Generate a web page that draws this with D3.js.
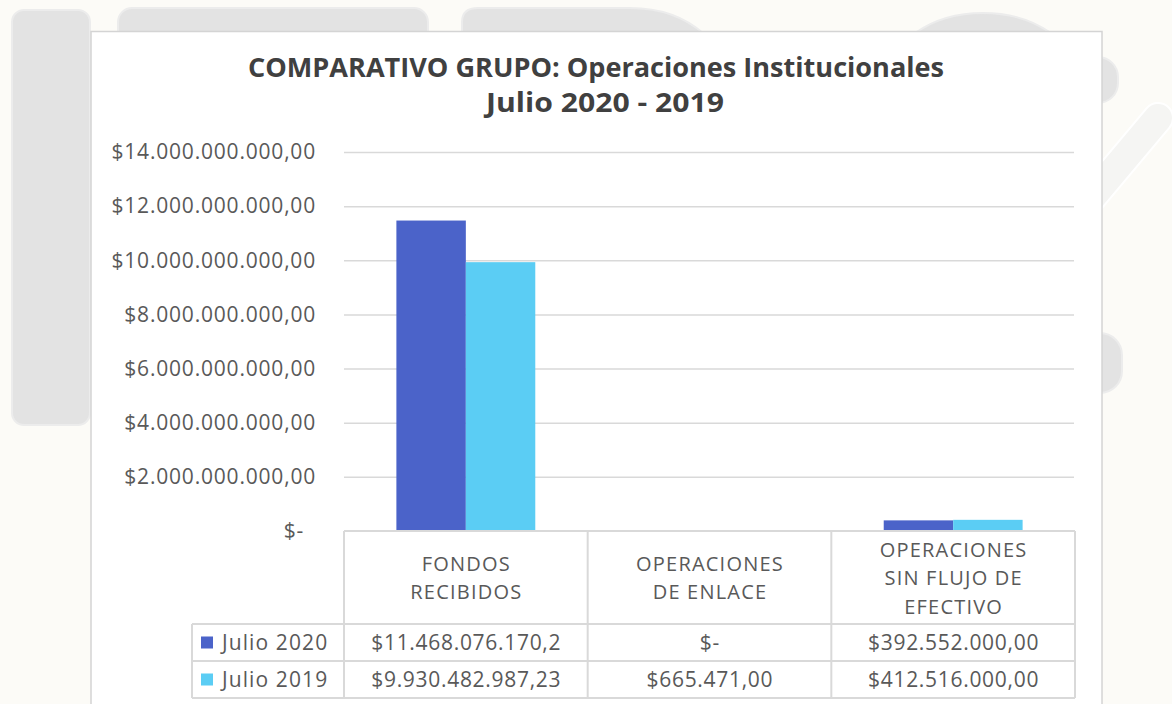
<!DOCTYPE html>
<html>
<head>
<meta charset="utf-8">
<script src="https://cdn.jsdelivr.net/npm/d3@7"></script>
<style>
  html, body { margin: 0; padding: 0; background: #fcfbf7; }
  svg { display: block; }
  text { font-family: "Open Sans", "Noto Sans", sans-serif; }
</style>
</head>
<body>
<svg id="chart" width="1172" height="704"></svg>
<script>
// ---------------- data ----------------
const titleLines = ["COMPARATIVO GRUPO: Operaciones Institucionales", "Julio 2020 - 2019"];
const categories = ["FONDOS RECIBIDOS", "OPERACIONES DE ENLACE", "OPERACIONES SIN FLUJO DE EFECTIVO"];
const categoryLines = [["FONDOS", "RECIBIDOS"], ["OPERACIONES", "DE ENLACE"], ["OPERACIONES", "SIN FLUJO DE", "EFECTIVO"]];
const seriesNames = ["Julio 2020", "Julio 2019"];
const julio2020 = [11468076170.2, 0, 392552000];
const julio2019 = [9930482987.23, 665471, 412516000];
const julio2020Labels = ["$11.468.076.170,2", "$-", "$392.552.000,00"];
const julio2019Labels = ["$9.930.482.987,23", "$665.471,00", "$412.516.000,00"];
const yTicks = [0, 2e9, 4e9, 6e9, 8e9, 10e9, 12e9, 14e9];
const yTickLabels = ["$-", "$2.000.000.000,00", "$4.000.000.000,00", "$6.000.000.000,00",
  "$8.000.000.000,00", "$10.000.000.000,00", "$12.000.000.000,00", "$14.000.000.000,00"];
const seriesColors = ["#4b63c9", "#5bcdf4"];

// ---------------- drawing ----------------
const svg = d3.select("#chart");
const textColor = "#595959";
const lineColor = "#d9d9d9";

// background watermark shapes
const bg = svg.append("g");
bg.append("rect").attr("width", 1172).attr("height", 704).attr("fill", "#fcfbf7");
const shapeFill = "#e3e3e3", shapeStroke = "#ececec";
bg.append("rect").attr("x", 12).attr("y", 10).attr("width", 78).attr("height", 415).attr("rx", 12)
  .attr("fill", shapeFill).attr("stroke", shapeStroke).attr("stroke-width", 2);
bg.append("rect").attr("x", 118).attr("y", 8).attr("width", 310).attr("height", 120).attr("rx", 14)
  .attr("fill", shapeFill).attr("stroke", shapeStroke).attr("stroke-width", 2);
bg.append("path").attr("d", "M462,60 L462,22 Q462,8 478,8 L630,8 Q675,8 704,34 L704,60 Z")
  .attr("fill", shapeFill).attr("stroke", shapeStroke).attr("stroke-width", 2);
bg.append("ellipse").attr("cx", 983).attr("cy", 80).attr("rx", 95).attr("ry", 67)
  .attr("fill", shapeFill).attr("stroke", shapeStroke).attr("stroke-width", 2);
bg.append("rect").attr("x", 1070).attr("y", 57).attr("width", 48).attr("height", 46).attr("rx", 20)
  .attr("fill", shapeFill).attr("stroke", shapeStroke).attr("stroke-width", 2);
bg.append("rect").attr("x", 1070).attr("y", 333).attr("width", 52).attr("height", 60).attr("rx", 22)
  .attr("fill", shapeFill).attr("stroke", shapeStroke).attr("stroke-width", 2);
bg.append("line").attr("x1", 1085).attr("y1", 205).attr("x2", 1158).attr("y2", 118)
  .attr("stroke", "#ffffff").attr("stroke-width", 32).attr("stroke-linecap", "round");
bg.append("line").attr("x1", 1085).attr("y1", 205).attr("x2", 1158).attr("y2", 118)
  .attr("stroke", "#f5f5f3").attr("stroke-width", 28).attr("stroke-linecap", "round");

// chart panel
svg.append("rect").attr("x", 91).attr("y", 31.5).attr("width", 1011).attr("height", 700)
  .attr("fill", "#ffffff").attr("stroke", "#d4d4d4").attr("stroke-width", 1.5);

// title
const title = svg.append("g").attr("fill", "#404040").attr("font-weight", 700);
title.append("text").attr("x", 596).attr("y", 77).attr("text-anchor", "middle")
  .attr("font-size", 26).attr("textLength", 696).attr("lengthAdjust", "spacingAndGlyphs")
  .text(titleLines[0]);
title.append("text").attr("x", 605).attr("y", 112).attr("text-anchor", "middle")
  .attr("font-size", 26).attr("textLength", 238).attr("lengthAdjust", "spacingAndGlyphs")
  .text(titleLines[1]);

// scales
const plotLeft = 344, plotRight = 1075;
const y = d3.scaleLinear().domain([0, 14e9]).range([531, 152]);
const x0 = d3.scaleBand().domain(categories).range([plotLeft, plotRight]).padding(0);
const groupW = x0.bandwidth() * 0.57;
const x1 = d3.scaleBand().domain(seriesNames).range([0, groupW]).padding(0);

// axis + gridlines
const yAxis = d3.axisLeft(y).tickValues(yTicks)
  .tickFormat((d, i) => yTickLabels[i])
  .tickSizeInner(-(plotRight - plotLeft - 1)).tickSizeOuter(0).tickPadding(28);
const ag = svg.append("g").attr("transform", `translate(${plotLeft},0)`).call(yAxis);
ag.select(".domain").remove();
ag.selectAll(".tick line").attr("stroke", lineColor).attr("stroke-width", 1.5)
  .filter(d => d === 0).remove();
ag.selectAll(".tick text").attr("fill", textColor).attr("font-size", 21)
  .attr("letter-spacing", 0.8)
  .attr("font-family", "'Open Sans', 'Noto Sans', sans-serif")
  .attr("dx", d => d === 0 ? -12 : 0);

// bars
const seriesData = [julio2020, julio2019];
const barData = [];
categories.forEach((c, ci) => {
  seriesNames.forEach((s, si) => barData.push({ cat: c, series: s, value: seriesData[si][ci], color: seriesColors[si] }));
});
svg.append("g").selectAll("rect").data(barData).join("rect")
  .attr("x", d => x0(d.cat) + (x0.bandwidth() - groupW) / 2 + x1(d.series))
  .attr("width", x1.bandwidth())
  .attr("y", d => y(d.value))
  .attr("height", d => y(0) - y(d.value))
  .attr("fill", d => d.color);

// data table
const tableTop = 531, headerBottom = 624, rowH = 37;
const legendLeft = 192;
const rowTops = [headerBottom, headerBottom + rowH];
const tableBottom = headerBottom + 2 * rowH;
const tg = svg.append("g");
const lineStyle = sel => sel.attr("stroke", lineColor).attr("stroke-width", 2).attr("fill", "none");
tg.append("line").attr("x1", plotLeft).attr("x2", plotRight).attr("y1", tableTop).attr("y2", tableTop).call(lineStyle);
[headerBottom, headerBottom + rowH, tableBottom].forEach(yy =>
  tg.append("line").attr("x1", legendLeft).attr("x2", plotRight).attr("y1", yy).attr("y2", yy).call(lineStyle));
categories.forEach(c => tg.append("line").attr("x1", x0(c)).attr("x2", x0(c)).attr("y1", tableTop).attr("y2", tableBottom).call(lineStyle));
tg.append("line").attr("x1", plotRight).attr("x2", plotRight).attr("y1", tableTop).attr("y2", tableBottom).call(lineStyle);
tg.append("line").attr("x1", legendLeft).attr("x2", legendLeft).attr("y1", headerBottom).attr("y2", tableBottom).call(lineStyle);

// header text
const headerMid = (tableTop + headerBottom) / 2;
const lineGap = 28.5;
categories.forEach((c, ci) => {
  const lines = categoryLines[ci];
  lines.forEach((ln, li) => {
    tg.append("text")
      .attr("x", x0(c) + x0.bandwidth() / 2 + 0.5)
      .attr("y", headerMid + (li - (lines.length - 1) / 2) * lineGap + 7.5)
      .attr("text-anchor", "middle").attr("font-size", 20).attr("letter-spacing", 1.2)
      .attr("fill", textColor).text(ln);
  });
});

// rows
const rowLabels = [julio2020Labels, julio2019Labels];
seriesNames.forEach((s, si) => {
  const cy = rowTops[si] + rowH / 2;
  tg.append("rect").attr("x", 201).attr("y", cy - 6).attr("width", 12).attr("height", 12).attr("fill", seriesColors[si]);
  tg.append("text").attr("x", 222).attr("y", cy + 7.5).attr("font-size", 21).attr("letter-spacing", 1.1)
    .attr("fill", textColor).text(s);
  categories.forEach((c, ci) => {
    tg.append("text").attr("x", x0(c) + x0.bandwidth() / 2 + 0.4).attr("y", cy + 7.5)
      .attr("text-anchor", "middle").attr("font-size", 21).attr("letter-spacing", 0.7)
      .attr("fill", textColor).text(rowLabels[si][ci]);
  });
});
</script>
</body>
</html>
